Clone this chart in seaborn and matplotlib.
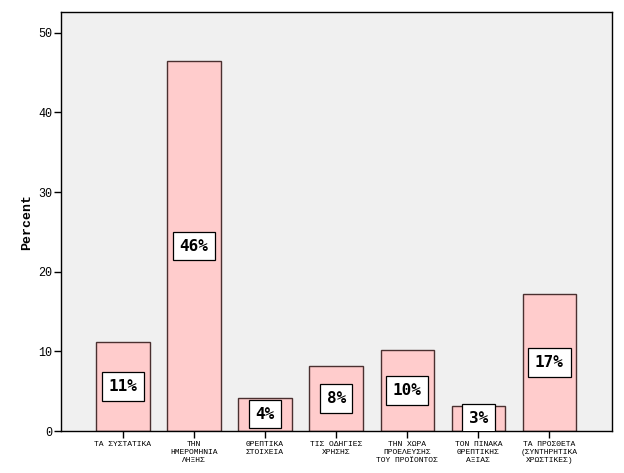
import matplotlib
matplotlib.use("Agg")
import matplotlib.pyplot as plt
import seaborn as sns
import pandas as pd

categories = [
    "ΤΑ ΣΥΣΤΑΤΙΚΑ",
    "ΤΗΝ\nΗΜΕΡΟΜΗΝΙΑ\nΛΗΞΗΣ",
    "ΘΡΕΠΤΙΚΑ\nΣΤΟΙΧΕΙΑ",
    "ΤΙΣ ΟΔΗΓΙΕΣ\nΧΡΗΣΗΣ",
    "ΤΗΝ ΧΩΡΑ\nΠΡΟΕΛΕΥΣΗΣ\nΤΟΥ ΠΡΟΪΟΝΤΟΣ",
    "ΤΟΝ ΠΙΝΑΚΑ\nΘΡΕΠΤΙΚΗΣ\nΑΞΙΑΣ",
    "ΤΑ ΠΡΟΣΘΕΤΑ\n(ΣΥΝΤΗΡΗΤΙΚΑ\nΧΡΩΣΤΙΚΕΣ)",
]
percent = [11.2, 46.4, 4.2, 8.2, 10.2, 3.1, 17.2]
labels = ["11%", "46%", "4%", "8%", "10%", "3%", "17%"]
yticks = [0, 10, 20, 30, 40, 50]

df = pd.DataFrame({"cat": categories, "pct": percent})

sns.set_style("ticks")
plt.rcParams["font.family"] = ["Liberation Mono", "DejaVu Sans Mono"]
plt.rcParams["text.color"] = "black"
plt.rcParams["axes.labelcolor"] = "black"
plt.rcParams["xtick.color"] = "black"
plt.rcParams["ytick.color"] = "black"

fig = plt.figure(figsize=(6.24, 4.73), dpi=100)
ax = fig.add_axes([61 / 624, 1 - 431 / 473, (612 - 61) / 624, (431 - 12) / 473])
ax.set_facecolor("#F0F0F0")

sns.barplot(data=df, x="cat", y="pct", ax=ax, color="#FFCCCC", saturation=1,
            width=0.75, edgecolor="#4a3030", linewidth=1.0, errorbar=None)

for i, (v, lab) in enumerate(zip(percent, labels)):
    ax.text(i, v / 2, lab, ha="center", va="center", fontsize=11.5,
            fontweight="bold", family="DejaVu Sans Mono", color="black",
            bbox=dict(boxstyle="square,pad=0.42", fc="white", ec="black", lw=0.9),
            clip_on=True, zorder=5)

ax.set_xlim(-0.87, 6.88)
ax.set_ylim(0, 52.6)
ax.set_yticks(yticks)
ax.set_yticklabels([str(t) for t in yticks], fontsize=8.5)
ax.tick_params(axis="x", labelsize=5.8, length=5, width=1, pad=2, colors="black")
ax.tick_params(axis="y", length=5, width=1, pad=1, colors="black")
ax.set_xlabel("")
ax.set_ylabel("Percent", fontsize=9.5, fontweight="bold", labelpad=4, color="black")
for s in ax.spines.values():
    s.set_visible(True)
    s.set_color("black")
    s.set_linewidth(1.0)

fig.savefig("out.png", dpi=100, facecolor="white")
